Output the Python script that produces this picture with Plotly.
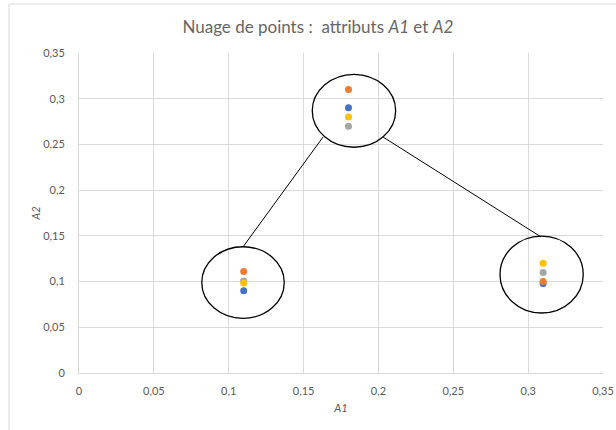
import plotly.graph_objects as go

# ---- data ----
a1_values = [0.11, 0.18, 0.31]
series_names = ["Série 1", "Série 2", "Série 3", "Série 4"]
series_colors = ["#4472C4", "#ED7D31", "#A5A5A5", "#FFC000"]
a2_blue = [0.09, 0.29, 0.098]
a2_orange = [0.111, 0.31, 0.1]
a2_gray = [0.1005, 0.27, 0.11]
a2_yellow = [0.0985, 0.28, 0.12]
series_values = [a2_blue, a2_orange, a2_gray, a2_yellow]

tick_vals = [0, 0.05, 0.1, 0.15, 0.2, 0.25, 0.3, 0.35]
tick_text = ["0", "0,05", "0,1", "0,15", "0,2", "0,25", "0,3", "0,35"]

# decorative ellipses (x0, x1, y0, y1 in data units) and connector lines
ellipses = [
    (0.0820, 0.1371, 0.0598, 0.1381),
    (0.1558, 0.2115, 0.2469, 0.3267),
    (0.2812, 0.3368, 0.0656, 0.1498),
]
connectors = [
    (0.1630, 0.2581, 0.1095, 0.1378),
    (0.2031, 0.2581, 0.3086, 0.1488),
]

fig = go.Figure()
for name, color, vals in zip(series_names, series_colors, series_values):
    fig.add_trace(go.Scatter(
        x=a1_values, y=vals, mode="markers", name=name,
        marker=dict(color=color, size=7),
        showlegend=False,
    ))

shapes = []
for x0, x1, y0, y1 in ellipses:
    shapes.append(dict(type="circle", xref="x", yref="y", x0=x0, x1=x1, y0=y0, y1=y1,
                       line=dict(color="black", width=1.3), layer="above"))
for x0, y0, x1, y1 in connectors:
    shapes.append(dict(type="line", xref="x", yref="y", x0=x0, y0=y0, x1=x1, y1=y1,
                       line=dict(color="black", width=1)))
# chart frame (top and left edges visible)
shapes.append(dict(type="line", xref="paper", yref="paper", x0=-0.1336, x1=1.2, y0=1.153, y1=1.153,
                   line=dict(color="#D9D9D9", width=1)))
shapes.append(dict(type="line", xref="paper", yref="paper", x0=-0.1336, x1=-0.1336, y0=1.153, y1=-0.3,
                   line=dict(color="#D9D9D9", width=1)))

fig.update_layout(
    width=616, height=430,
    margin=dict(l=79, r=13, t=53, b=57, autoexpand=False),
    paper_bgcolor="white", plot_bgcolor="white",
    separators=", ",
    font=dict(family="Lato, Open Sans, sans-serif", color="#595959", size=11),
    title=dict(text="Nuage de points :  attributs <i>A1</i> et <i>A2</i>",
               x=0.516, xanchor="center", y=0.937, yanchor="middle",
               xref="container", yref="container", automargin=False,
               font=dict(size=17, color="#666666", family="Lato, Open Sans, sans-serif")),
    shapes=shapes,
)
fig.update_xaxes(
    range=[0, 0.35], tickvals=tick_vals, ticktext=tick_text, automargin=False,
    showgrid=True, gridcolor="#D9D9D9", gridwidth=1,
    zeroline=False, showline=True, linecolor="#D9D9D9", linewidth=1,
    ticks="", ticklabelstandoff=8,
    title=dict(text="<i>A1</i>", font=dict(size=11, color="#595959"), standoff=8),
)
fig.update_yaxes(
    range=[0, 0.35], tickvals=tick_vals, ticktext=tick_text, automargin=False,
    showgrid=True, gridcolor="#D9D9D9", gridwidth=1,
    zeroline=False, showline=True, linecolor="#D9D9D9", linewidth=1,
    ticks="", ticklabelstandoff=11,
    title=dict(text="<i>A2</i>", font=dict(size=11, color="#595959"), standoff=0),
)

fig.write_html("out.html", config={"displayModeBar": False},
               post_script="document.body.style.margin='0';")
